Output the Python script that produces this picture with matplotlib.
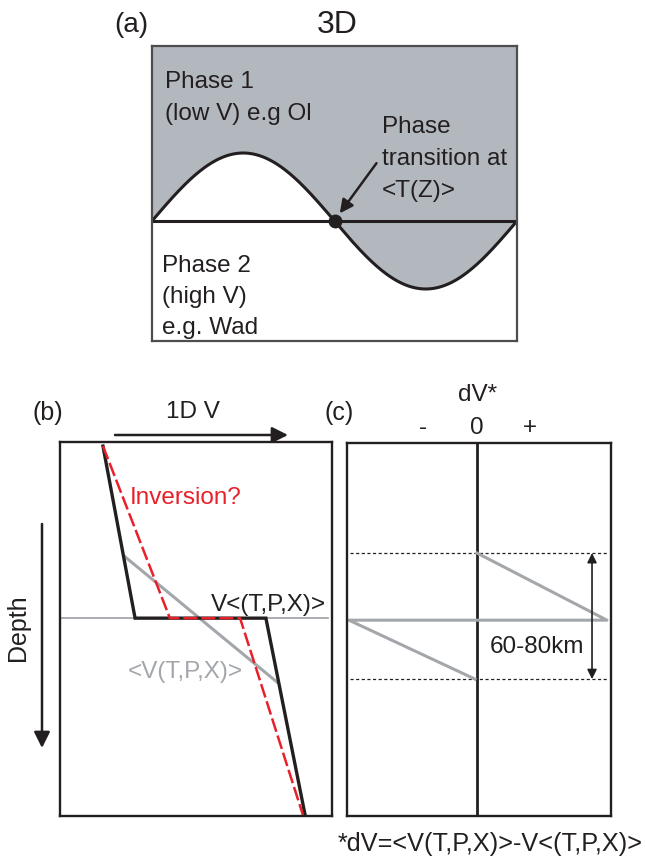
import numpy as np
import matplotlib.pyplot as plt

plt.rcParams['font.family'] = ['Liberation Sans', 'DejaVu Sans']

W, H = 645, 856

# (a) phase boundary: one wavelength of topography around the mean depth
boundary_amp = 1.0
boundary_x = np.linspace(0, 1, 300)
crossing_x = 0.5

# (b) 1D velocity profiles (velocity fraction vs. normalised depth)
depth_local = [0.011, 0.471, 0.471, 0.997]
v_local = [0.158, 0.276, 0.757, 0.901]          # V<(T,P,X)>
depth_inv = [0.011, 0.471, 0.471, 0.997]
v_inv = [0.158, 0.404, 0.662, 0.893]            # Inversion?
depth_mean = [0.307, 0.642]
v_mean = [0.239, 0.798]                         # <V(T,P,X)>
depth_transition = 0.471

# (c) dV* = <V> - V<>
dv_depth = [0.295, 0.475, 0.475, 0.633]
dv_vals = [0.0, 1.0, -0.985, -0.015]
zone_top, zone_bot = 0.295, 0.633

GRAY_FILL = '#b3b8bf'
GRAY_LINE = '#a3a7ab'
RED = '#e8202a'
INK = '#231f20'
FS = 17.5


def fx(px):
    return px / W


def fy(py):
    return 1 - py / H


def box(px0, py0, px1, py1):
    return [fx(px0), fy(py1), (px1 - px0) / W, (py1 - py0) / H]


fig = plt.figure(figsize=(W / 100, H / 100), dpi=100)

# ---- (a) 3D ----
axa = fig.add_axes(box(152, 46, 517, 341))
ylo, yhi = -120 / 68, 175 / 68
y_b = boundary_amp * np.sin(2 * np.pi * boundary_x)
axa.fill_between(boundary_x, y_b, yhi, color=GRAY_FILL, lw=0)
axa.plot(boundary_x, y_b, color=INK, lw=2.2)
axa.axhline(0, color=INK, lw=2.2)
axa.plot(crossing_x, 0, 'o', color=INK, ms=9)
axa.annotate('', xy=(crossing_x + 0.01, 0.08), xytext=(0.615, 0.85),
             arrowprops=dict(arrowstyle='-|>', color=INK, lw=1.8,
                             mutation_scale=20, shrinkA=0, shrinkB=2))
axa.set_xlim(0, 1)
axa.set_ylim(ylo, yhi)
axa.set_xticks([])
axa.set_yticks([])
for s in axa.spines.values():
    s.set_color('#4d4d4d')
    s.set_linewidth(1.6)

fig.text(fx(114), fy(32), '(a)', fontsize=20, va='baseline', color=INK)
fig.text(fx(337), fy(33), '3D', fontsize=23, ha='center', va='baseline', color=INK)
for i, line in enumerate(['Phase 1', '(low V) e.g Ol']):
    fig.text(fx(165), fy(88 + 32 * i), line, fontsize=FS, va='baseline', color=INK)
for i, line in enumerate(['Phase', 'transition at', '<T(Z)>']):
    fig.text(fx(382), fy(133 + 32 * i), line, fontsize=FS, va='baseline', color=INK)
for i, line in enumerate(['Phase 2', '(high V)', 'e.g. Wad']):
    fig.text(fx(162), fy(272 + 31 * i), line, fontsize=FS, va='baseline', color=INK)

# ---- (b) 1D V ----
axb = fig.add_axes(box(60, 442, 332, 816))
axb.plot([0, 0.985], [depth_transition] * 2, color=GRAY_LINE, lw=1.3)
axb.plot(v_mean, depth_mean, color=GRAY_LINE, lw=2.2)
axb.plot(v_local, depth_local, color=INK, lw=2.4, solid_joinstyle='miter')
axb.plot(v_inv, depth_inv, color=RED, lw=1.8, dashes=(5.6, 1.6))
axb.set_xlim(0, 1)
axb.set_ylim(1, 0)
axb.set_xticks([])
axb.set_yticks([])
for s in axb.spines.values():
    s.set_color(INK)
    s.set_linewidth(1.7)

axb.text(0.257, 0.15, 'Inversion?', color=RED, fontsize=FS, va='center')
axb.text(0.555, 0.435, 'V<(T,P,X)>', color=INK, fontsize=FS, va='center')
axb.text(0.25, 0.615, '<V(T,P,X)>', color=GRAY_LINE, fontsize=FS, va='center')

fig.text(fx(32), fy(413), '(b)', fontsize=18, va='center', color=INK)
fig.text(fx(193), fy(412), '1D V', fontsize=FS, ha='center', va='center', color=INK)
fig.text(fx(18), fy(628), 'Depth', fontsize=18, rotation=90, ha='center',
         va='center', color=INK)

# axis-direction arrows drawn in a full-figure pixel frame
ov = fig.add_axes([0, 0, 1, 1], zorder=-1)
ov.set_xlim(0, W)
ov.set_ylim(H, 0)
ov.axis('off')
ov.annotate('', xy=(288, 435), xytext=(115, 435),
            arrowprops=dict(arrowstyle='-|>', color=INK, lw=1.8,
                            mutation_scale=24, shrinkA=0, shrinkB=0))
ov.annotate('', xy=(42, 748), xytext=(42, 524),
            arrowprops=dict(arrowstyle='-|>', color=INK, lw=1.8,
                            mutation_scale=24, shrinkA=0, shrinkB=0))

# ---- (c) dV* ----
axc = fig.add_axes(box(347, 443, 611, 816))
axc.axvline(0, color=INK, lw=2.0)
axc.plot([-0.98, 1.0], [zone_top] * 2, color=INK, lw=0.9, dashes=(2.5, 2))
axc.plot([-0.98, 1.0], [zone_bot] * 2, color=INK, lw=0.9, dashes=(2.5, 2))
axc.plot(dv_vals, dv_depth, color=GRAY_LINE, lw=2.2)
axc.annotate('', xy=(0.885, zone_top), xytext=(0.885, zone_bot),
             arrowprops=dict(arrowstyle='<|-|>', color=INK, lw=1.2,
                             mutation_scale=14, shrinkA=0, shrinkB=0))
axc.text(0.1, 0.548, '60-80km', color=INK, fontsize=FS, va='center')
axc.set_xlim(-1.0, 1.031)
axc.set_ylim(1, 0)
axc.set_xticks([])
axc.set_yticks([])
for s in axc.spines.values():
    s.set_color(INK)
    s.set_linewidth(1.7)

fig.text(fx(325), fy(413), '(c)', fontsize=18, va='center', color=INK)
fig.text(fx(478), fy(395), 'dV*', fontsize=FS, ha='center', va='center', color=INK)
for lab, px in zip(['-', '0', '+'], [423, 477, 530]):
    fig.text(fx(px), fy(428), lab, fontsize=FS, ha='center', va='center', color=INK)
fig.text(fx(490), fy(844), '*dV=<V(T,P,X)>-V<(T,P,X)>', fontsize=18.2,
         ha='center', va='center', color=INK)

fig.savefig('out.png', dpi=100)
